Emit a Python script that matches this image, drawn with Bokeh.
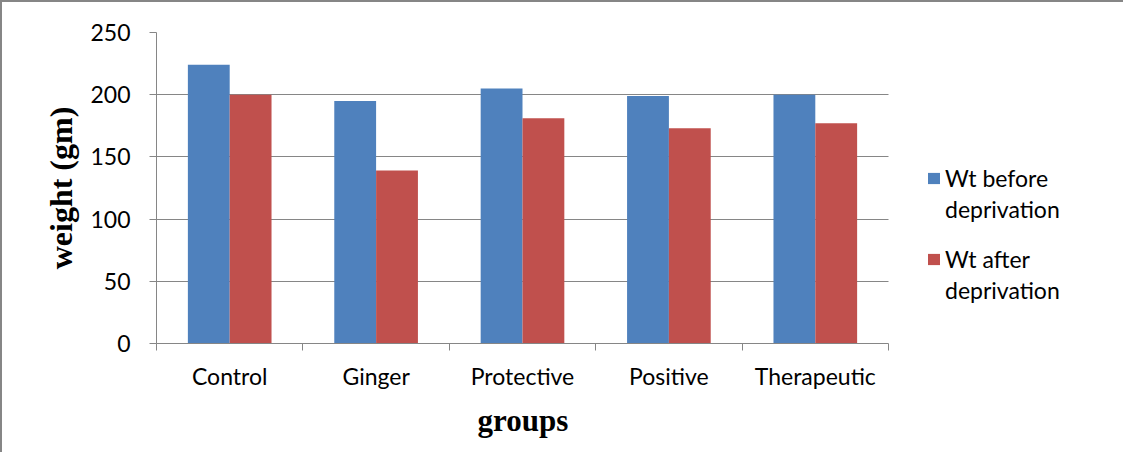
from bokeh.plotting import figure
from bokeh.models import (Range1d, LinearAxis, FixedTicker, Title,
                          ColumnDataSource, Legend, LegendItem)
from bokeh.transform import dodge
from bokeh.embed import file_html
from bokeh.resources import INLINE

groups = ["Control", "Ginger", "Protective", "Positive", "Therapeutic"]
wt_before = [224, 195, 205, 199, 200]
wt_after = [200, 139, 181, 173, 177]
y_ticks = [0, 50, 100, 150, 200, 250]
series_names = ["Wt before deprivation", "Wt after deprivation"]

BLUE = "#4F81BD"
RED = "#C0504D"
GREY = "#868686"
TICK_FONT = "Lato"
TITLE_FONT = "Liberation Serif"

n = len(groups)
pos = [i + 0.5 for i in range(n)]          # category centres on a unit-width axis
edges = list(range(n + 1))                 # category boundaries
src = ColumnDataSource(dict(groups=groups, pos=pos, before=wt_before, after=wt_after))

# layout: the frame also covers the legend area on the right; the bar area
# (n categories) occupies PLOT_W pixels of it.
W, H = 1123, 452
LEFT, TOP, RIGHT, BOTTOM = 154, 30, 0, 111
PLOT_W = 732
frame_w = W - LEFT - RIGHT
x_end = n * frame_w / PLOT_W

p = figure(width=W, height=H, output_backend="svg", toolbar_location=None,
           x_range=Range1d(0, x_end), y_range=Range1d(0, 250),
           x_axis_location=None, y_axis_location=None,
           min_border_left=LEFT, min_border_top=TOP, min_border_right=RIGHT,
           min_border_bottom=BOTTOM)
p.outline_line_color = None
p.background_fill_color = "white"
p.border_fill_color = "white"
p.styles = {"border-top": "2px solid #868686", "border-left": "2px solid #868686"}

# horizontal gridlines limited to the category span
p.xgrid.visible = False
grid_ok = "cross_bounds" in p.ygrid[0].properties()
if grid_ok:
    p.ygrid.ticker = FixedTicker(ticks=y_ticks)
    p.ygrid.grid_line_color = GREY
    p.ygrid.grid_line_width = 1
    p.ygrid.cross_bounds = (0, n)
else:
    p.ygrid.visible = False
    p.segment(x0=[0] * len(y_ticks), x1=[n] * len(y_ticks), y0=y_ticks, y1=y_ticks,
              line_color=GREY, line_width=1)

bw = 0.2857
r_before = p.vbar(x=dodge("pos", -bw / 2), top="before", width=bw,
                  source=src, fill_color=BLUE, line_color=None)
r_after = p.vbar(x=dodge("pos", bw / 2), top="after", width=bw,
                 source=src, fill_color=RED, line_color=None)

# y axis
yax = LinearAxis(ticker=FixedTicker(ticks=y_ticks))
yax.axis_line_color = GREY
yax.major_tick_line_color = GREY
yax.major_tick_out = 7
yax.major_tick_in = 0
yax.minor_tick_line_color = None
yax.major_label_text_font = TICK_FONT
yax.major_label_text_font_size = "23px"
yax.major_label_text_color = "black"
yax.major_label_standoff = 19
yax.axis_label = "weight (gm)"
yax.axis_label_text_font = TITLE_FONT
yax.axis_label_text_font_style = "bold"
yax.axis_label_text_font_size = "32px"
yax.axis_label_text_color = "black"
yax.axis_label_standoff = 8
p.add_layout(yax, "left")

# x axis: labels at centres, tick marks at boundaries (minor ticks)
xax = LinearAxis(ticker=FixedTicker(ticks=pos, minor_ticks=edges), bounds=(0, n))
xax.major_label_overrides = {pp: g for pp, g in zip(pos, groups)}
xax.axis_line_color = GREY
xax.major_tick_line_color = None
xax.major_tick_out = 7
xax.major_tick_in = 0
xax.minor_tick_line_color = GREY
xax.minor_tick_out = 7
xax.minor_tick_in = 0
xax.major_label_text_font = TICK_FONT
xax.major_label_text_font_size = "23px"
xax.major_label_text_color = "black"
xax.major_label_standoff = 11
p.add_layout(xax, "below")

# x axis title, centred under the category span (not the whole frame)
xtitle = Title(text="groups", align="left", offset=321,
               text_font=TITLE_FONT, text_font_style="bold", text_font_size="31px",
               text_color="black", standoff=16)
p.add_layout(xtitle, "below")


def make_legend(renderer, first, second, y):
    lg = Legend(items=[LegendItem(label=first, renderers=[renderer]),
                       LegendItem(label=second, renderers=[])],
                location=(PLOT_W + 38, y), orientation="vertical")
    lg.border_line_color = None
    lg.background_fill_alpha = 0
    lg.padding = 0
    lg.margin = 0
    lg.spacing = 0
    lg.glyph_width = 15
    lg.glyph_height = 14
    lg.label_height = 31
    lg.label_standoff = 4
    lg.label_text_font = TICK_FONT
    lg.label_text_font_size = "23px"
    lg.label_text_color = "black"
    lg.label_text_baseline = "middle"
    return lg


b_words = series_names[0].split(" ")
a_words = series_names[1].split(" ")
p.add_layout(make_legend(r_before, " ".join(b_words[:2]), b_words[2], 119), "center")
p.add_layout(make_legend(r_after, " ".join(a_words[:2]), a_words[2], 38), "center")

open("out.html", "w").write(file_html(p, INLINE))
